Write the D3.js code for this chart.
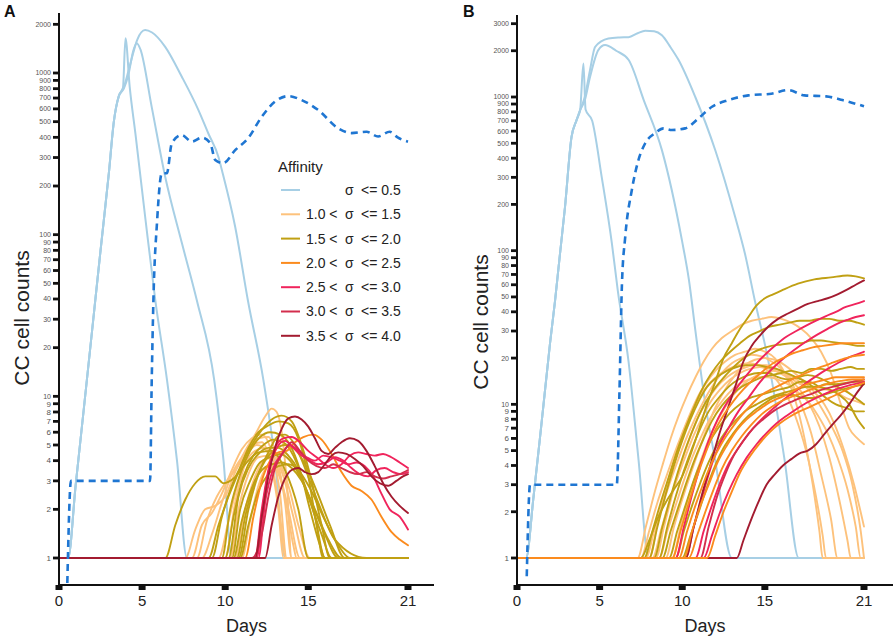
<!DOCTYPE html>
<html><head><meta charset="utf-8">
<script src="https://cdn.jsdelivr.net/npm/d3@7/dist/d3.min.js"></script>
<style>body{margin:0;background:#fff}svg{display:block}</style>
</head><body>
<svg id="chart" width="896" height="641"></svg>
<script>
// ---------------- DATA ----------------
const xTicks = [0, 5, 10, 15, 21];
const yTicksA = [1,2,3,4,5,6,7,8,9,10,20,30,40,50,60,70,80,90,100,200,300,400,500,600,700,800,900,1000,2000];
const yTicksB = [1,2,3,4,5,6,7,8,9,10,20,30,40,50,60,70,80,90,100,200,300,400,500,600,700,800,900,1000,2000,3000];
const legendTitle = "Affinity";
const legendLow = ["", "1.0 <", "1.5 <", "2.0 <", "2.5 <", "3.0 <", "3.5 <"];
const legendHigh = ["<= 0.5", "<= 1.5", "<= 2.0", "<= 2.5", "<= 3.0", "<= 3.5", "<= 4.0"];

// Panel A
const A_blue = [
 [[0,1],[0.55,1],[1,2.8],[1.5,8.5],[2,26],[2.5,80],[3,240],[3.3,500],[3.6,720],[3.85,810],[4.0,1640],[4.25,830],[4.6,420],[5.2,125],[5.8,39],[6.5,12.6],[7.1,4],[7.7,1],[21,1]],
 [[0,1],[0.55,1],[1,2.8],[1.5,8.5],[2,26],[2.5,80],[3,240],[3.3,500],[3.6,720],[3.9,800],[4.2,1000],[4.45,1350],[4.68,1530],[4.9,1400],[5.58,615],[6.39,228],[7.39,89],[8.3,39],[9.34,12.6],[9.9,4],[10.4,1],[21,1]],
 [[0,1],[0.55,1],[1,2.8],[1.5,8.5],[2,26],[2.5,80],[3,240],[3.3,500],[3.6,720],[3.9,820],[4.3,1150],[4.7,1600],[5.18,1843],[5.6,1780],[6.39,1452],[7.39,948],[8.39,590],[8.98,424],[9.6,301],[9.8,251],[10.6,112],[11.37,39],[12.3,12.6],[13.0,4],[13.6,1],[21,1]]
];
const A_dashed = [[0.5,0.7],[0.72,3],[5.48,3],[5.58,12.6],[5.68,39],[5.9,120],[6.19,240],[6.49,240],[6.79,369],[7.39,413],[7.99,376],[8.6,398],[9.1,369],[9.4,290],[9.88,277],[10.6,333],[11.4,398],[12.2,536],[13.0,666],[13.8,720],[14.6,680],[15.6,590],[16.8,455],[17.6,425],[18.5,433],[19.2,405],[19.9,433],[20.4,398],[21,376]];
const A_lightOrange = [
 [[7.6,1],[8.2,1.5],[8.8,2],[9.4,2.1],[10,2.4],[10.6,3.4],[11.2,4.6],[11.8,5.8],[12.4,7.5],[12.8,8.4],[13.1,8.0],[13.4,6],[13.7,3],[14,1]],
 [[8.0,1],[8.6,1.6],[9.2,1.9],[9.8,2.5],[10.4,3.5],[11,4.7],[11.6,5.5],[12.2,5.8],[12.8,4.5],[13.3,2.5],[13.7,1]],
 [[8.6,1],[9.2,1.4],[9.8,2.2],[10.4,3.3],[11,4.2],[11.6,5],[12.2,5.2],[12.7,4],[13.2,2],[13.5,1]],
 [[9.6,1],[10.2,1.7],[10.8,3],[11.4,4.5],[12,5.5],[12.6,5.6],[13.1,4.2],[13.6,2.2],[14,1]],
 [[10,1],[10.6,2.2],[11.2,3.8],[11.8,4.6],[12.4,4.8],[13,3.8],[13.6,2.4],[14.1,1.2],[14.3,1]],
 [[10.3,1],[10.8,2],[11.4,3.3],[12,4.2],[12.6,4.3],[13.2,3.5],[13.8,2],[14.5,1]],
 [[10.6,1],[11.1,1.8],[11.7,3],[12.3,4],[12.9,4.2],[13.5,3.2],[14.1,1.8],[14.8,1]],
 [[11,1],[11.5,1.7],[12,2.8],[12.6,3.7],[13.2,3.8],[13.8,2.8],[14.4,1.6],[15.1,1]],
 [[8.3,1],[8.9,1.7],[9.5,2.4],[10.1,3.0],[10.7,3.6],[11.3,4.4],[11.9,5.0],[12.5,4.6],[13.0,3.0],[13.4,1.5],[13.6,1]]
];
const A_olive = [
 [[6.4,1],[7.0,1.6],[7.6,2.3],[8.2,2.9],[8.8,3.2],[9.4,3.2],[9.9,2.9],[10.5,3.1],[11.2,3.8],[12,4.5],[12.8,4.6],[13.6,3.5],[14.4,2],[15,1]],
 [[9.2,1],[9.8,1.8],[10.4,2.8],[11,3.8],[11.6,5],[12.2,6.2],[12.8,7.2],[13.4,7.6],[14,7],[14.6,5],[15.2,3],[15.8,1.6],[16.3,1]],
 [[9.8,1],[10.3,2],[10.9,3.3],[11.5,4.6],[12.1,5.6],[12.7,6],[13.3,5.8],[13.9,5],[14.5,3.5],[15.1,2],[15.7,1.2],[16,1]],
 [[10,1],[10.5,1.8],[11.1,3.2],[11.7,4.3],[12.3,5],[12.9,5.4],[13.5,5.2],[14.1,4.3],[14.7,3],[15.4,1.8],[16,1]],
 [[10.2,1],[10.8,2.4],[11.4,3.6],[12,4.4],[12.6,4.8],[13.2,4.8],[13.8,4.3],[14.4,3.5],[15,2.4],[15.8,1.4],[16.4,1]],
 [[10.4,1],[10.9,2],[11.5,3],[12.1,3.9],[12.7,4.2],[13.3,4.4],[13.9,4],[14.5,3.2],[15.2,2.2],[16,1.4],[16.8,1]],
 [[10.5,1],[11,1.7],[11.6,2.7],[12.2,3.5],[12.8,3.8],[13.4,3.9],[14,3.6],[14.6,3],[15.4,2],[16.2,1.3],[17,1]],
 [[10.7,1],[11.2,1.8],[11.8,3],[12.4,4],[13,4.7],[13.6,5],[14.2,4.7],[14.8,3.8],[15.5,2.6],[16.3,1.6],[17.2,1]],
 [[10.9,1],[11.4,1.6],[12,2.6],[12.6,3.3],[13.2,3.7],[13.8,3.8],[14.4,3.5],[15.1,2.7],[15.9,1.8],[16.8,1.2],[17.5,1]],
 [[10.8,1],[11.4,2],[12,3.3],[12.6,4.5],[13.2,5.7],[13.6,5.8],[14.2,5],[14.8,3.6],[15.6,2.2],[16.6,1.3],[18.5,1]],
 [[9.0,1],[9.6,1.6],[10.2,2.4],[10.8,3.4],[11.4,4.8],[12,6],[12.6,6.6],[13.2,7],[13.8,6.8],[14.4,5.5],[15,3.2],[15.5,1.6],[15.9,1]]
];
const A_orange = [
 [[11.2,1],[11.7,1.8],[12.2,3],[12.7,4],[13.2,4.5],[13.7,4.6],[14.2,5.2],[14.7,5.6],[15.3,5.8],[15.8,5.4],[16.4,4.4],[17,3.4],[17.6,2.8],[18.2,2.6],[18.8,2.3],[19.4,1.8],[20,1.45],[20.5,1.3],[21,1.2]]
];
const A_pink = [
 [[11.8,1],[12.2,2],[12.6,3.5],[13,4.8],[13.5,5.5],[14,5.6],[14.5,5.2],[15,4.6],[15.5,4.2],[16,3.8],[16.5,3.6],[17,3.8],[17.5,4.3],[18,4.5],[18.5,4.4],[19,4.3],[19.5,4.4],[20,4.2],[20.5,3.9],[21,3.6]],
 [[11.9,1],[12.3,2.2],[12.7,3.8],[13.1,4.8],[13.6,5.3],[14.1,4.8],[14.6,4.3],[15.1,4],[15.6,3.8],[16.1,3.9],[16.6,4.2],[17.1,4],[17.6,3.6],[18.1,3.3],[18.6,3.2],[19.1,3.5],[19.6,3.6],[20.1,3.4],[20.6,3.3],[21,3.4]],
 [[12,1],[12.4,2.2],[12.9,3.6],[13.4,4.4],[13.9,5],[14.4,4.6],[14.9,4.2],[15.4,4],[15.9,4.3],[16.4,4.2],[16.9,4],[17.4,3.8],[17.9,3.9],[18.4,3.7],[18.9,3.2],[19.4,2.5],[19.9,2],[20.5,1.8],[21,1.5]]
];
const A_crimson = [
 [[11.6,1],[12.2,1.4],[12.6,2.4],[13,3.6],[13.5,4.5],[14,5.2],[14.5,4.6],[15,4],[15.5,3.7],[16,3.6],[16.5,3.8],[17,3.6],[17.5,3.4],[18,3.3],[18.5,3.4],[19,3.2],[19.5,3.1],[20,3.2],[20.5,3.3],[21,3.5]]
];
const A_darkRed = [
 [[11.8,1],[12.2,1.8],[12.6,3.2],[13,4.8],[13.4,6.3],[13.8,7.3],[14.2,7.5],[14.6,7.2],[15,6.5],[15.4,5.5],[15.8,4.6],[16.2,4.4],[16.6,4.8],[17,5.2],[17.5,5.5],[18,5.3],[18.5,4.6],[19,3.7],[19.5,2.9],[20,2.4],[20.5,2.1],[21,1.9]],
 [[12.4,1],[12.8,1.6],[13.2,2.4],[13.6,3.1],[14,3.5],[14.4,3.6],[14.8,3.4],[15.2,3.3],[15.6,3.4],[16,3.8],[16.4,4.3],[16.8,4.5],[17.3,4.4],[17.8,4.1],[18.3,3.7],[18.8,3.2],[19.3,2.9],[19.8,2.8],[20.3,3.0],[20.7,3.2],[21,3.3]]
];

// Panel B
const B_blue = [
 [[0,1],[0.55,1],[1,2.5],[1.5,7.8],[2,25],[2.3,47],[2.6,95],[2.9,190],[3.3,550],[3.6,705],[3.82,822],[4.02,1650],[4.15,830],[4.55,700],[5.13,300],[5.74,112],[6.1,55],[6.75,19],[7.36,4.3],[7.96,1],[21,1]],
 [[0,1],[0.55,1],[1,2.5],[1.5,7.8],[2,25],[2.3,47],[2.6,95],[2.9,190],[3.3,550],[3.6,705],[3.82,822],[4.1,950],[4.42,1350],[4.92,2020],[5.33,2177],[6.0,2000],[6.76,1740],[7.67,955],[8.77,451],[9.98,117],[10.4,65],[10.8,30],[11.4,10],[12.0,4.3],[13.0,1],[21,1]],
 [[0,1],[0.55,1],[1,2.5],[1.5,7.8],[2,25],[2.3,47],[2.6,95],[2.9,190],[3.3,550],[3.6,705],[3.82,822],[4.1,1000],[4.42,1500],[4.73,2120],[5.53,2400],[6.2,2440],[6.75,2450],[7.3,2600],[7.76,2700],[8.3,2680],[8.77,2520],[9.3,2100],[9.78,1740],[10.79,1000],[12.0,450],[13.2,166],[13.8,95],[14.4,47],[15.2,19.4],[16.2,4.3],[17.05,1],[21,1]]
];
const B_dashed = [[0.59,0.76],[0.79,3],[6.04,3],[6.2,12],[6.35,60],[6.55,123],[6.95,248],[7.35,389],[7.76,500],[8.36,582],[8.87,625],[9.37,610],[10.18,625],[11.0,729],[11.8,864],[12.8,955],[14.0,1025],[15.4,1050],[16.4,1110],[17.4,1025],[18.7,1010],[19.7,955],[21,870]];
const B_lightOrange = [
 [[7.3,1],[7.8,1.6],[8.3,2.6],[8.8,4],[9.3,6],[9.8,8.5],[10.3,11.5],[10.8,15],[11.3,19],[11.8,23],[12.4,27],[13,30],[13.6,33],[14.2,35],[14.8,36],[15.4,37],[16,36],[16.6,34],[17.2,31],[17.8,27],[18.4,22],[19,16],[19.6,10],[20.1,7],[20.6,6],[21,5.5]],
 [[7.5,1],[8,1.5],[8.5,2.3],[9,3.3],[9.5,4.7],[10,6.5],[10.5,8.8],[11,11.5],[11.5,14],[12,16.5],[12.6,19],[13.2,21],[13.8,22],[14.4,23],[15,22],[15.6,20],[16.2,16],[16.8,11],[17.4,6],[17.9,3],[18.3,1.5],[18.5,1]],
 [[7.8,1],[8.3,1.5],[8.8,2.2],[9.3,3.2],[9.8,4.5],[10.3,6.2],[10.8,8.2],[11.3,10.5],[11.8,13],[12.4,16],[13,18.5],[13.6,20],[14.2,21],[14.8,20.5],[15.4,19],[16,17],[16.6,14],[17.2,10],[17.8,6.5],[18.4,3.5],[19,1.8],[19.4,1]],
 [[8.2,1],[8.7,1.5],[9.2,2.3],[9.7,3.3],[10.2,4.6],[10.7,6.3],[11.2,8.2],[11.7,10.3],[12.3,12.5],[12.9,14.5],[13.5,16],[14.1,17],[14.7,17.5],[15.3,17],[15.9,16],[16.5,14.5],[17.1,12.5],[17.7,10],[18.3,7.2],[18.9,4.5],[19.5,2.4],[20,1.3],[20.2,1]],
 [[8.6,1],[9.1,1.5],[9.6,2.2],[10.1,3.2],[10.6,4.5],[11.1,6],[11.6,7.8],[12.2,9.8],[12.8,11.8],[13.4,13.5],[14,14.5],[14.6,15],[15.2,15],[15.8,14.5],[16.4,13.5],[17,12],[17.6,10.5],[18.2,8.5],[18.8,6.5],[19.4,4.5],[20,2.8],[20.5,1.6],[20.8,1]],
 [[9,1],[9.5,1.6],[10,2.4],[10.5,3.5],[11,5],[11.5,7],[12,9.5],[12.6,12.5],[13.2,15.5],[13.8,18],[14.4,19.5],[15,20],[15.6,19.5],[16.2,18],[16.8,16],[17.4,14],[18,12],[18.6,10],[19.2,7.5],[19.8,5],[20.4,3],[21,1.6]],
 [[8.0,1],[8.5,1.7],[9,2.8],[9.5,4.3],[10,6.3],[10.5,8.5],[11,11],[11.6,13.5],[12.2,15.5],[12.8,17],[13.4,18],[14,18.5],[14.6,18],[15.2,16.5],[15.8,14],[16.4,11],[17,7.5],[17.6,4.5],[18.1,2.5],[18.5,1.4],[18.7,1]],
 [[9.4,1],[9.9,1.6],[10.4,2.5],[10.9,3.7],[11.4,5.2],[11.9,7],[12.5,9.2],[13.1,11.5],[13.7,13.5],[14.3,15],[14.9,16],[15.5,16.5],[16.1,16],[16.7,15],[17.3,13.5],[17.9,11.5],[18.5,9.2],[19.1,7],[19.7,5],[20.3,3],[20.8,1.5],[21,1]],
 [[8.4,1],[8.9,1.6],[9.4,2.6],[9.9,4],[10.4,5.8],[10.9,8],[11.5,10.5],[12.1,13],[12.7,15],[13.3,16.5],[13.9,17.5],[14.5,18],[15.1,18],[15.7,17],[16.3,15.5],[16.9,14],[17.5,13],[18.1,12.5],[18.7,12.5],[19.3,12],[19.9,11],[20.5,10.5],[21,10]]
];
const B_olive = [
 [[7.5,1],[8.0,1.3],[8.5,1.8],[9,2.3],[9.5,2.8],[10,3.4],[10.5,4.7],[11,6.8],[11.5,10],[12,14],[12.5,20],[13,25],[13.5,31],[14,37],[14.5,44],[15,49],[15.5,52],[16,55],[17,61],[18,65],[19,67],[20,69],[20.5,68],[21,66]],
 [[7.7,1],[8.2,1.5],[8.7,2.3],[9.2,3.4],[9.7,5],[10.2,7],[10.7,9.5],[11.2,12.5],[11.7,15.5],[12.3,19],[12.9,22],[13.5,25],[14.1,28],[14.7,30],[15.3,32],[15.9,33],[16.5,34],[17.1,35],[17.7,35],[18.3,36],[18.9,36],[19.5,35],[20.1,35],[20.6,34],[21,33]],
 [[8.3,1],[8.8,1.6],[9.3,2.5],[9.8,3.8],[10.3,5.5],[10.8,7.5],[11.3,9.8],[11.8,12],[12.4,14.5],[13,17],[13.6,19.5],[14.2,21.5],[14.8,23],[15.4,24],[16,24.5],[16.6,25],[17.2,25],[17.8,26],[18.4,26],[19,25.5],[19.6,25],[20.2,24.5],[20.6,24],[21,24]],
 [[8.8,1],[9.3,1.5],[9.8,2.2],[10.3,3.2],[10.8,4.5],[11.3,6],[11.8,7.8],[12.4,9.8],[13,11.5],[13.6,13],[14.2,14],[14.8,15],[15.4,15.5],[16,16],[16.6,16.5],[17.2,16],[17.8,17],[18.4,17],[19,16.5],[19.6,17],[20.2,17.5],[20.6,17],[21,17]],
 [[9.2,1],[9.7,1.5],[10.2,2.2],[10.7,3.2],[11.2,4.4],[11.7,5.8],[12.3,7.3],[12.9,8.8],[13.5,10],[14.1,11],[14.7,11.5],[15.3,12],[15.9,12.5],[16.5,13],[17.1,14],[17.7,14],[18.3,13],[18.9,12.5],[19.5,11.5],[20.1,10],[20.6,8],[21,7]],
 [[8.6,1],[9.1,1.6],[9.6,2.5],[10.1,3.7],[10.6,5.2],[11.1,7],[11.6,9],[12.2,11],[12.8,13],[13.4,14.5],[14,15.5],[14.6,16],[15.2,16],[15.8,15],[16.4,14.5],[17,15],[17.6,15.5],[18.2,15],[18.8,14],[19.4,13],[20,12],[20.5,11],[21,10]],
 [[9.6,1],[10.1,1.5],[10.6,2.2],[11.1,3.1],[11.6,4.2],[12.1,5.4],[12.7,6.8],[13.3,8],[13.9,9.2],[14.5,10],[15.1,10.8],[15.7,11.5],[16.3,12],[16.9,12.5],[17.5,13],[18.1,13],[18.7,13.5],[19.3,13.5],[19.9,13.8],[20.5,14],[21,14]],
 [[8,1],[8.5,1.6],[9,2.6],[9.5,4],[10,5.8],[10.5,8],[11,10.5],[11.5,13],[12.1,15],[12.7,16.5],[13.3,17.5],[13.9,18],[14.5,18],[15.1,17.5],[15.7,17],[16.3,16],[16.9,15],[17.5,14],[18.1,12.5],[18.7,11],[19.3,10],[19.9,9.5],[20.5,9],[21,9]],
 [[10,1],[10.5,1.4],[11,2],[11.5,2.9],[12,4],[12.5,5.2],[13.1,6.5],[13.7,7.8],[14.3,9],[14.9,10],[15.5,11],[16.1,11.5],[16.7,11.5],[17.3,11],[17.9,11],[18.5,11.5],[19.1,12],[19.7,12.5],[20.3,13],[21,13.5]]
];
const B_orange = [
 [[9.4,1],[9.9,1.5],[10.4,2.3],[10.9,3.4],[11.4,4.8],[11.9,6.5],[12.5,8.5],[13.1,10.5],[13.7,12.5],[14.3,14.5],[14.9,16.5],[15.5,18.5],[16.1,20],[16.7,21.5],[17.3,22.5],[17.9,23.5],[18.5,24],[19.1,24.5],[19.7,25],[20.3,25],[21,25]],
 [[9.8,1],[10.3,1.5],[10.8,2.2],[11.3,3.1],[11.8,4.2],[12.4,5.6],[13,7],[13.6,8.5],[14.2,10],[14.8,11.5],[15.4,12.5],[16,13.5],[16.6,14.5],[17.2,15.5],[17.8,16.5],[18.4,17.5],[19,18.5],[19.6,19.5],[20.3,20.5],[21,21]],
 [[10.4,1],[10.9,1.4],[11.4,2],[11.9,2.8],[12.4,3.8],[13,5],[13.6,6.2],[14.2,7.4],[14.8,8.6],[15.4,9.6],[16,10.5],[16.6,11.2],[17.2,11.8],[17.8,12.5],[18.4,13.2],[19,13.8],[19.6,14.2],[20.3,14.5],[21,14.5]],
 [[11.5,1],[12,1.4],[12.5,2],[13,2.7],[13.5,3.6],[14.1,4.6],[14.7,5.6],[15.3,6.6],[15.9,7.5],[16.5,8.3],[17.1,9],[17.7,9.6],[18.3,10.3],[18.9,11],[19.5,11.8],[20.2,12.8],[21,13.8]],
 [[10.1,1],[10.6,1.5],[11.1,2.2],[11.6,3],[12.1,4.1],[12.7,5.4],[13.3,6.8],[13.9,8],[14.5,9],[15.1,10],[15.7,10.8],[16.3,11.5],[16.9,12.5],[17.5,13.5],[18.1,14],[18.7,14.5],[19.3,15],[20,15],[21,15]]
];
const B_pink = [
 [[9.6,1],[10.1,1.6],[10.6,2.6],[11.1,4],[11.6,5.8],[12.1,7.8],[12.7,10.2],[13.3,12.8],[13.9,15.5],[14.5,18.5],[15.1,21.5],[15.7,24.5],[16.3,27.5],[16.9,30],[17.5,32.5],[18.1,35],[18.7,37.5],[19.3,40],[19.9,43],[20.5,45],[21,47]],
 [[10.2,1],[10.7,1.6],[11.2,2.5],[11.7,3.8],[12.2,5.3],[12.8,7],[13.4,9],[14,11],[14.6,13.5],[15.2,16],[15.8,18.5],[16.4,21],[17,23.5],[17.6,26],[18.2,28.5],[18.8,31],[19.4,33.5],[20,35.5],[20.5,37],[21,38]],
 [[10.8,1],[11.3,1.5],[11.8,2.2],[12.3,3.1],[12.8,4.1],[13.4,5.2],[14,6.4],[14.6,7.6],[15.2,8.8],[15.8,10],[16.4,11.3],[17,12.5],[17.6,14],[18.2,15.5],[18.8,17],[19.4,18.5],[20,20],[20.5,21],[21,22]],
 [[11.3,1],[11.8,1.4],[12.3,2],[12.8,2.7],[13.3,3.5],[13.9,4.5],[14.5,5.5],[15.1,6.5],[15.7,7.5],[16.3,8.4],[16.9,9.3],[17.5,10.2],[18.1,11],[18.7,11.8],[19.3,12.5],[20,13.2],[21,14]]
];
const B_crimson = [
 [[11.1,1],[11.6,1.6],[12.1,2.5],[12.6,3.5],[13.1,4.6],[13.7,5.8],[14.3,7],[14.9,8],[15.5,9],[16.1,9.8],[16.7,10.5],[17.3,11.2],[17.9,11.8],[18.5,12.5],[19.1,13],[19.7,13.5],[20.3,14],[21,14.5]]
];
const B_darkRed = [
 [[10.2,1],[10.7,1.6],[11.2,2.6],[11.7,4],[12.2,6.2],[12.7,9],[13.2,13],[13.7,19],[14.2,24],[14.7,28],[15.2,32],[15.8,36],[16.4,39],[17,42],[17.6,45],[18.2,47],[18.8,49],[19.4,52],[20,56],[20.5,60],[21,64]],
 [[13.3,1],[13.7,1.3],[14.1,1.7],[14.6,2.3],[15.1,3],[15.6,3.5],[16.1,4],[16.6,4.4],[17.1,4.8],[17.6,5],[18.1,5.5],[18.6,6.4],[19.1,7.4],[19.6,8.5],[20.1,10],[20.6,12],[21,13.7]]
];

// ---------------- STYLE ----------------
const C = {blue:"#a7cfe5", lo:"#fdc27c", ol:"#c0a013", or:"#fb8b1e", pk:"#f0245c", cr:"#d32e4d", dr:"#a31b30", dash:"#1f76d2"};
const legendColors = [C.blue, C.lo, C.ol, C.or, C.pk, C.cr, C.dr];
const FONT = "'Liberation Sans', Arial, Helvetica, sans-serif";

const svg = d3.select("#chart");

function panel(cfg) {
  const g = svg.append("g");
  const x = d3.scaleLinear().domain([0, 21]).range([cfg.x0, cfg.x21]);
  const y = d3.scaleLog().domain([1, 1000]).range([cfg.y1, cfg.y1000]);
  const line = d3.line().x(d => x(d[0])).y(d => y(d[1])).curve(d3.curveMonotoneX);

  const withBase = s => {
    const pts = s[0][0] > 0 ? [[0, 1], ...s] : s.slice();
    const last = pts[pts.length - 1];
    if (last[1] === 1 && last[0] < 21) pts.push([21, 1]);
    return pts;
  };
  const drawSet = (set, color, w) => {
    set.forEach(s => g.append("path").attr("d", line(withBase(s)))
      .attr("fill", "none").attr("stroke", color).attr("stroke-width", w)
      .attr("stroke-linejoin", "round").attr("stroke-linecap", "round"));
  };
  drawSet(cfg.blue, C.blue, 2);
  cfg.sets.forEach(([set, col]) => drawSet(set, col, 1.9));
  g.append("path").attr("d", line(cfg.dashed)).attr("fill", "none")
    .attr("stroke", C.dash).attr("stroke-width", 2.6).attr("stroke-dasharray", "7,5");

  // axes
  const axY = g.append("g").attr("transform", `translate(${cfg.x0},0)`);
  axY.append("line").attr("x1", 0).attr("x2", 0).attr("y1", cfg.yTop).attr("y2", cfg.yBot)
    .attr("stroke", "#111").attr("stroke-width", 2);
  cfg.yTicks.forEach(v => {
    axY.append("line").attr("x1", -6).attr("x2", 0).attr("y1", y(v)).attr("y2", y(v))
      .attr("stroke", "#111").attr("stroke-width", 2.8);
    axY.append("text").attr("x", -8).attr("y", y(v)).attr("dy", "0.35em")
      .attr("text-anchor", "end").attr("font-family", FONT)
      .attr("font-size", v < 10 ? 8 : 7).attr("fill", "#555").text(v);
  });
  const axX = g.append("g").attr("transform", `translate(0,${cfg.yBot})`);
  axX.append("line").attr("x1", cfg.x0 - 1).attr("x2", cfg.xEnd).attr("y1", 0).attr("y2", 0)
    .attr("stroke", "#111").attr("stroke-width", 2);
  xTicks.forEach(t => {
    axX.append("rect").attr("x", x(t) - 3.5).attr("y", 0).attr("width", 7).attr("height", 5).attr("fill", "#111");
    axX.append("text").attr("x", x(t)).attr("y", 21).attr("text-anchor", "middle")
      .attr("font-family", FONT).attr("font-size", 15).attr("fill", "#222").text(t);
  });
  g.append("text").attr("x", (cfg.x0 + cfg.xEnd) / 2).attr("y", cfg.yBot + 47)
    .attr("text-anchor", "middle").attr("font-family", FONT).attr("font-size", 18).attr("fill", "#222").text("Days");
  g.append("text").attr("transform", `translate(${cfg.ylabX},${cfg.ylabY}) rotate(-90)`)
    .attr("text-anchor", "middle").attr("font-family", FONT).attr("font-size", 21).attr("fill", "#222").text("CC cell counts");
  g.append("text").attr("x", cfg.letterX).attr("y", 17).attr("font-family", FONT)
    .attr("font-weight", "bold").attr("font-size", 16).attr("fill", "#111").text(cfg.letter);
}

panel({x0: 59, x21: 408, xEnd: 434, y1: 558, y1000: 73, yTop: 13, yBot: 585,
  yTicks: yTicksA, blue: A_blue, dashed: A_dashed, letter: "A", letterX: 4, ylabX: 29, ylabY: 318,
  sets: [[A_lightOrange, C.lo], [A_olive, C.ol], [A_orange, C.or], [A_pink, C.pk], [A_crimson, C.cr], [A_darkRed, C.dr]]});
panel({x0: 517, x21: 864, xEnd: 893, y1: 558, y1000: 97, yTop: 15, yBot: 585,
  yTicks: yTicksB, blue: B_blue, dashed: B_dashed, letter: "B", letterX: 463, ylabX: 488, ylabY: 322,
  sets: [[B_lightOrange, C.lo], [B_olive, C.ol], [B_pink, C.pk], [B_crimson, C.cr], [B_darkRed, C.dr], [B_orange, C.or]]});

// legend
const lg = svg.append("g");
lg.append("text").attr("x", 278).attr("y", 172).attr("font-family", FONT).attr("font-size", 15)
  .attr("fill", "#222").text(legendTitle);
legendHigh.forEach((h, i) => {
  const yy = 190 + i * 24.3;
  lg.append("line").attr("x1", 281).attr("x2", 300).attr("y1", yy).attr("y2", yy)
    .attr("stroke", legendColors[i]).attr("stroke-width", 2);
  if (legendLow[i]) lg.append("text").attr("x", 306).attr("y", yy).attr("dy", "0.35em")
    .attr("font-family", FONT).attr("font-size", 14).attr("fill", "#222").text(legendLow[i]);
  lg.append("text").attr("x", 345).attr("y", yy).attr("dy", "0.35em")
    .attr("font-family", FONT).attr("font-size", 14).attr("fill", "#222").text("σ");
  lg.append("text").attr("x", 361).attr("y", yy).attr("dy", "0.35em")
    .attr("font-family", FONT).attr("font-size", 14).attr("fill", "#222").text(h);
});
</script>
</body></html>
